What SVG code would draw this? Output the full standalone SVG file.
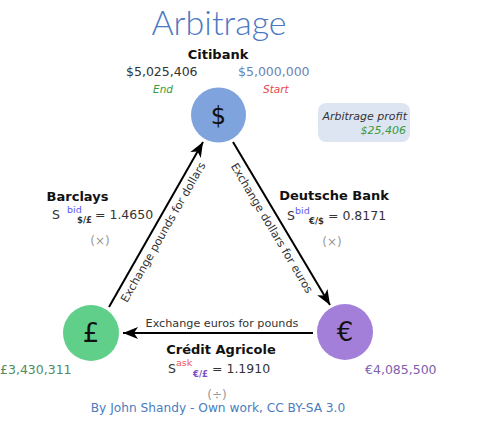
<svg xmlns="http://www.w3.org/2000/svg" width="481" height="434" viewBox="0 0 481 434">
<style>
text{font-family:"DejaVu Sans","Liberation Sans",sans-serif;fill:#333}
.b{font-weight:bold;font-size:13px;fill:#111;text-anchor:middle}
.v{font-size:12.5px}
.sup{font-size:9.5px}
.sub{font-size:8.5px;font-weight:bold}
.op{font-size:12px;fill:#999;text-anchor:middle}
.lbl{font-size:11.2px;fill:#333;text-anchor:middle}
.sym{font-size:26px;fill:#111;text-anchor:middle}
.it{font-style:italic;font-size:10.5px}
.conn{stroke:#000;stroke-width:2;fill:none;marker-end:url(#ah)}
</style>
<defs>
<marker id="ah" markerUnits="userSpaceOnUse" markerWidth="20" markerHeight="16" viewBox="-16 -8 20 16" refX="0" refY="0" orient="auto">
<path d="M0,0 L-15,-6 L-11,0 L-15,6 Z" fill="#000"/>
</marker>
</defs>
<rect width="481" height="434" fill="#fff"/>
<text x="219" y="35" style="font-family:Lato,'Open Sans',sans-serif;font-weight:300;font-size:34px;fill:#4a78c2" text-anchor="middle">Arbitrage</text>

<g id="connectors">
<line class="conn" x1="109" y1="307" x2="203" y2="142"/>
<line class="conn" x1="233" y1="142" x2="330" y2="305"/>
<line class="conn" x1="313" y1="333" x2="123" y2="333"/>
<text class="lbl" x="166.5" y="234" transform="rotate(-60.3 166.5 234)">Exchange pounds for dollars</text>
<text class="lbl" x="268.6" y="230" transform="rotate(59.2 268.6 230)">Exchange dollars for euros</text>
<text class="lbl" x="222" y="327">Exchange euros for pounds</text>
</g>

<g id="citibank">
<text class="b" x="218" y="59">Citibank</text>
<text class="v" x="126" y="76">$5,025,406</text>
<text class="v" x="238" y="76" style="fill:#6c83b5">$5,000,000</text>
<text class="it" x="153" y="93" style="fill:#3a9a3a">End</text>
<text class="it" x="263" y="93" style="fill:#e8474e">Start</text>
</g>

<g id="dollar">
<circle cx="218.5" cy="115" r="27.5" fill="#7fa3dc"/>
<text class="sym" x="218.5" y="124" style="font-size:24px">$</text>
</g>

<g id="profit">
<rect x="318" y="103" width="92" height="39" rx="8" fill="#dde5f3"/>
<text class="it" x="407" y="120" text-anchor="end" style="font-size:11px;fill:#333">Arbitrage profit</text>
<text class="it" x="406" y="134" text-anchor="end" style="font-size:11px;fill:#3a9a3a">$25,406</text>
</g>

<g id="barclays">
<text class="b" x="77.5" y="201">Barclays</text>
<text class="v" x="52" y="219">S</text>
<text class="sup" x="67" y="213" style="fill:#5a5af0">bid</text>
<text class="sub" x="77" y="223">$/£</text>
<text class="v" x="95" y="219">= 1.4650</text>
<text class="op" x="100" y="245">(×)</text>
</g>

<g id="deutsche">
<text class="b" x="334" y="200">Deutsche Bank</text>
<text class="v" x="287" y="220">S</text>
<text class="sup" x="295" y="214" style="fill:#5a5af0">bid</text>
<text class="sub" x="309" y="224">€/$</text>
<text class="v" x="328" y="220">= 0.8171</text>
<text class="op" x="332" y="246">(×)</text>
</g>

<g id="pound">
<circle cx="91" cy="333" r="28" fill="#5fcf8a"/>
<text class="sym" x="91" y="342">£</text>
<text class="v" x="0" y="374" style="fill:#4f8a63">£3,430,311</text>
</g>

<g id="euro">
<circle cx="345" cy="332" r="28" fill="#a47fd9"/>
<text class="sym" x="345" y="341">€</text>
<text class="v" x="365" y="374" style="fill:#7d5fb0">€4,085,500</text>
</g>

<g id="credit">
<text class="b" x="221" y="354">Crédit Agricole</text>
<text class="v" x="168" y="373">S</text>
<text class="sup" x="176" y="366" style="fill:#f05060">ask</text>
<text class="sub" x="193" y="377" style="fill:#7d4fc8">€/£</text>
<text class="v" x="212" y="373">= 1.1910</text>
<text class="op" x="217" y="399">(÷)</text>
</g>

<text x="218" y="412" text-anchor="middle" style="font-size:12.2px;fill:#4a7cc0">By John Shandy - Own work, CC BY-SA 3.0</text>
</svg>
